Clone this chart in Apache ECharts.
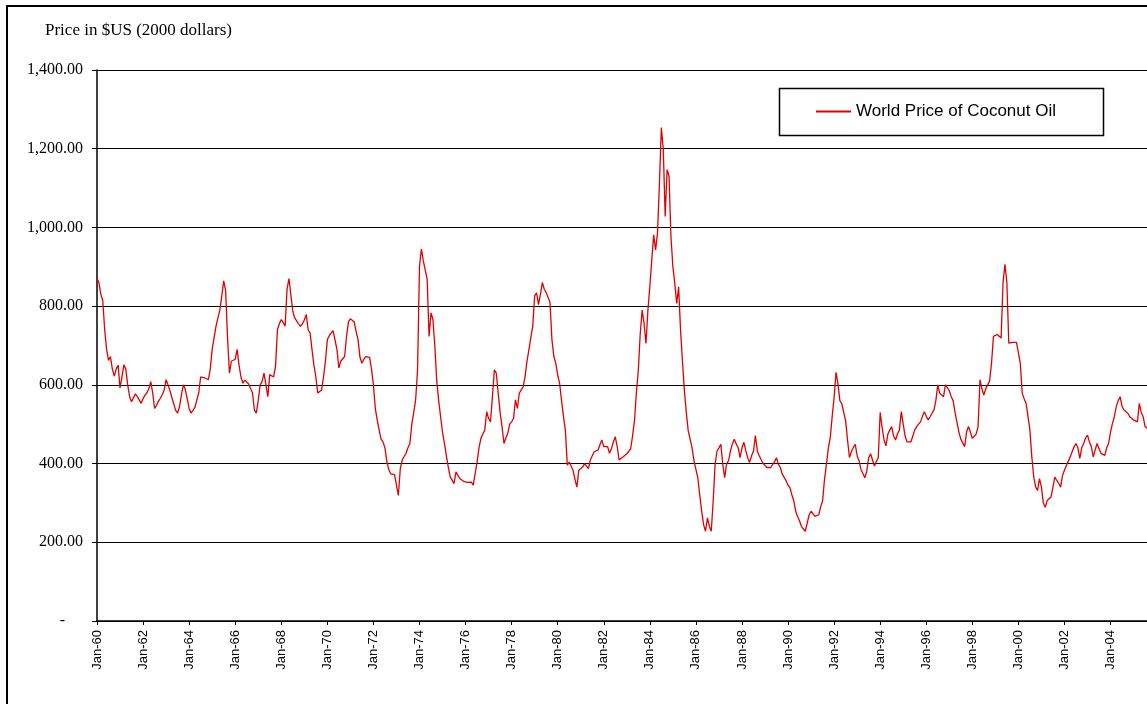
<!DOCTYPE html>
<html>
<head>
<meta charset="utf-8">
<script src="https://cdn.jsdelivr.net/npm/echarts@6/dist/echarts.min.js"></script>
<style>
html,body{margin:0;padding:0;background:#fff;}
#chart{width:1147px;height:704px;}
</style>
</head>
<body>
<div id="chart"></div>
<script>
// Monthly world price of coconut oil, Jan-1960 onward (2000 US dollars)
const prices1960s = [
  870, 860, 830, 815, 740, 690, 662, 672, 640, 622, 640, 650,
  592, 620, 651, 640, 600, 570, 557, 560, 577, 570, 565, 553,
  565, 574, 580, 590, 608, 580, 540, 548, 558, 566, 575, 587,
  613, 600, 585, 568, 570, 535, 528, 545, 575, 600, 588, 565,
  540, 528, 535, 543, 545, 580, 620, 622, 618, 615, 613, 640,
  690, 720, 749, 770, 790, 826, 864, 840, 720, 630, 660, 662,
  665, 690, 650, 620, 604, 612, 608, 602, 600, 580, 536, 528,
  560, 600, 608, 630, 600, 570, 626, 625, 620, 647, 740, 755,
  766, 758, 749, 843, 870, 875, 787, 770, 766, 755, 749, 755,
  765, 779, 740, 732, 690, 650, 621, 579, 582, 587, 620, 660
];
const prices1970s = [
  715, 725, 732, 738, 740, 690, 643, 660, 665, 672, 723, 760,
  768, 770, 760, 735, 715, 670, 655, 665, 672, 677, 670, 640,
  600, 540, 510, 485, 462, 455, 440, 405, 385, 374, 372, 372,
  370, 319, 387, 409, 418, 426, 440, 451, 500, 530, 562, 638,
  902, 945, 915, 911, 868, 723, 783, 766, 698, 610, 560, 519,
  480, 451, 420, 391, 366, 358, 349, 379, 370, 362, 357, 355,
  355, 352, 355, 353, 345, 340, 404, 440, 464, 475, 485, 532,
  515, 506, 570, 638, 630, 580, 530, 494, 451, 465, 477, 500,
  506, 515, 562, 540, 579, 575, 595, 621, 660, 689, 720, 749,
  826, 834, 804, 830, 860, 843, 835, 830, 809, 715, 672, 655
];
const prices1980s = [
  625, 604, 560, 520, 485, 396, 404, 400, 383, 360, 340, 383,
  387, 391, 400, 395, 387, 409, 420, 430, 432, 434, 448, 460,
  443, 445, 443, 426, 438, 455, 468, 443, 409, 412, 417, 420,
  425, 430, 437, 470, 509, 580, 637, 730, 790, 756, 705, 790,
  850, 917, 981, 943, 986, 1113, 1254, 1198, 1028, 1147, 1130, 977,
  900, 858, 807, 849, 739, 660, 586, 530, 483, 462, 440, 407,
  385, 364, 320, 279, 245, 228, 262, 241, 228, 305, 398, 432,
  440, 449, 398, 364, 400, 407, 432, 450, 462, 450, 441, 415,
  440, 454, 432, 415, 403, 420, 432, 471, 432, 420, 415, 400,
  398, 390, 390, 390, 390, 405, 415, 398, 390, 373, 365, 356
];
const prices1990s = [
  345, 339, 320, 305, 279, 265, 254, 240, 237, 228, 249, 270,
  279, 275, 266, 268, 270, 290, 305, 360, 398, 440, 466, 520,
  568, 632, 603, 560, 552, 530, 509, 460, 415, 430, 441, 449,
  420, 407, 385, 381, 364, 380, 415, 425, 428, 394, 405, 415,
  530, 492, 460, 445, 475, 485, 494, 470, 460, 475, 485, 532,
  500, 470, 455, 455, 455, 470, 485, 494, 500, 506, 520, 532,
  520, 511, 519, 528, 536, 560, 600, 579, 575, 570, 600, 598,
  585, 570, 560, 530, 505, 480, 462, 460, 443, 480, 494, 480,
  464, 460, 475, 494, 613, 590, 574, 590, 600, 610, 655, 723,
  725, 728, 725, 719, 860, 906, 860, 706, 706, 708, 711, 708
];
const prices2000s = [
  706, 655, 579, 565, 553, 520, 485, 417, 366, 340, 332, 362,
  340, 300, 289, 306, 310, 315, 340, 366, 357, 350, 340, 370,
  383, 395, 400, 417, 430, 443, 451, 440, 413, 440, 451, 465,
  472, 455, 443, 417, 435, 451, 438, 426, 422, 421, 440, 451,
  480, 502, 519, 545, 560, 570, 545, 536, 532, 528, 519, 515,
  511, 508, 506, 553, 530, 519, 494, 490
];
const monthNames = ['Jan','Feb','Mar','Apr','May','Jun','Jul','Aug','Sep','Oct','Nov','Dec'];
const startYear = 1960;
const seriesName = 'World Price of Coconut Oil';
const yAxisTitle = 'Price in $US (2000 dollars)';
const yTicks = [0, 200, 400, 600, 800, 1000, 1200, 1400];

const prices = [].concat(prices1960s, prices1970s, prices1980s, prices1990s, prices2000s);
const categories = prices.map((_, i) => {
  const y = startYear + Math.floor(i / 12);
  return monthNames[i % 12] + '-' + String(y % 100).padStart(2, '0');
});

const chart = echarts.init(document.getElementById('chart'), null, {renderer: 'canvas'});
const serif = 'Liberation Serif';
const sans = 'Liberation Sans';

chart.setOption({
  animation: false,
  backgroundColor: '#fff',
  title: {
    text: yAxisTitle,
    left: 45, top: 22, padding: 0,
    textStyle: {fontFamily: serif, fontSize: 17, fontWeight: 'normal', color: '#000'}
  },
  legend: {
    data: [seriesName],
    left: 816, top: 103, padding: 0,
    icon: 'rect', itemWidth: 35, itemHeight: 2,
    textStyle: {fontFamily: sans, fontSize: 17, color: '#000'}
  },
  graphic: [
    {type: 'rect', shape: {x: 7, y: 6, width: 1300, height: 900},
     style: {fill: 'none', stroke: '#000', lineWidth: 2}, z: 100},
    {type: 'rect', shape: {x: 779.5, y: 88.5, width: 324, height: 47},
     style: {fill: 'none', stroke: '#000', lineWidth: 1.5}, z: 100}
  ],
  grid: {left: 97, top: 70, right: 0, bottom: 83, containLabel: false},
  xAxis: {
    type: 'category',
    data: categories,
    boundaryGap: false,
    axisLine: {lineStyle: {color: '#000', width: 1.5}},
    axisTick: {show: true, interval: (i) => i % 24 === 0, length: 4, lineStyle: {color: '#000'}},
    axisLabel: {
      interval: (i) => i % 24 === 0,
      rotate: 90, margin: 9,
      fontFamily: sans, fontSize: 13, color: '#000'
    },
    splitLine: {show: false}
  },
  yAxis: {
    type: 'value',
    min: yTicks[0], max: yTicks[yTicks.length - 1], interval: 200,
    axisLine: {show: true, lineStyle: {color: '#000', width: 1.5}},
    axisTick: {show: true, length: 5, lineStyle: {color: '#000'}},
    axisLabel: {
      margin: 14,
      fontFamily: serif, fontSize: 16, color: '#000',
      formatter: (v) => v === 0 ? '{d|-}' :
        v.toLocaleString('en-US', {minimumFractionDigits: 2, maximumFractionDigits: 2}),
      rich: {d: {fontFamily: serif, fontSize: 16, color: '#000', padding: [0, 18, 0, 0]}}
    },
    splitLine: {show: true, lineStyle: {color: '#000', width: 1.2}}
  },
  series: [{
    name: seriesName,
    type: 'line',
    data: prices,
    showSymbol: false,
    symbol: 'none',
    lineStyle: {color: '#e00000', width: 1.3},
    itemStyle: {color: '#e00000'}
  }]
});
</script>
</body>
</html>
